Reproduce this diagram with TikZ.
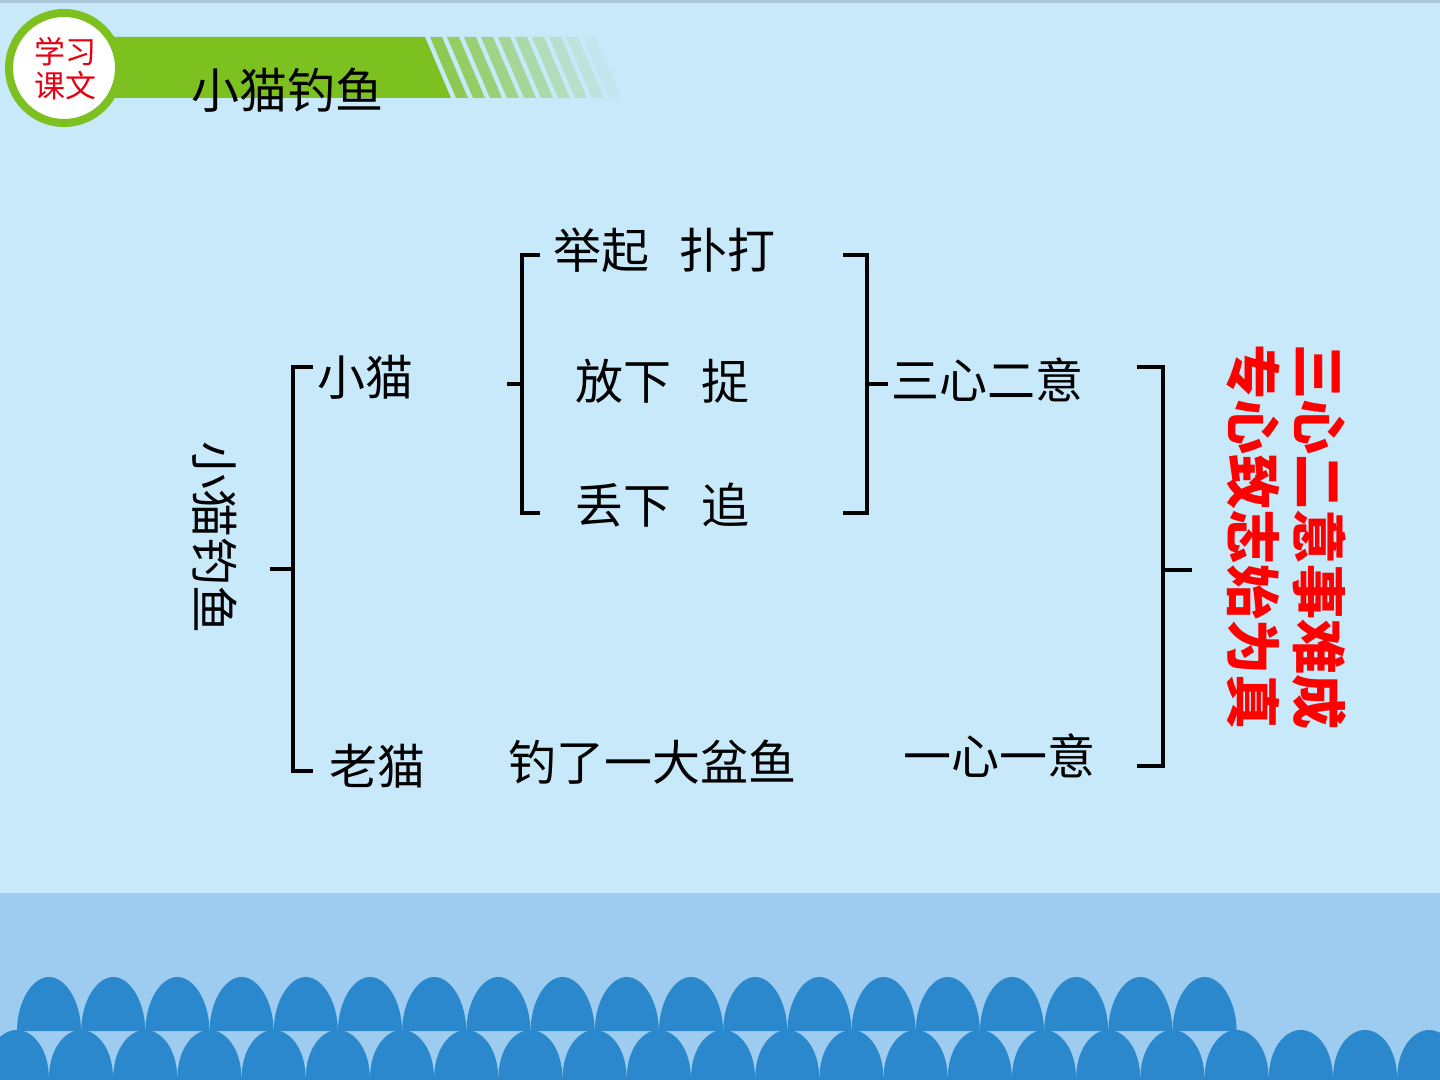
\documentclass[tikz,border=0pt]{standalone}
\usepackage{fontspec}
\newfontfamily\cjk{Noto Sans CJK SC}
\definecolor{skyblue}{HTML}{C7E9FA}
\definecolor{edgeblue}{HTML}{A9C6DA}
\definecolor{seablue}{HTML}{9DCCF0}
\definecolor{waveblue}{HTML}{2B88CC}
\definecolor{leafgreen}{HTML}{7DC121}
\definecolor{badgered}{HTML}{E60012}
\definecolor{moralred}{HTML}{FF0000}

\begin{document}
\begin{tikzpicture}[x=0.5pt, y=-0.5pt,
    word/.style={inner sep=0pt, font=\cjk\fontsize{24}{28}\selectfont},
    brk/.style={draw=black, line width=2pt}]
    \useasboundingbox (0,0) rectangle (1440,1080);
    \clip (0,0) rectangle (1440,1080);

    % background
    \fill[skyblue] (0,0) rectangle (1440,893);
    \fill[edgeblue] (0,0) rectangle (1440,3);
    \fill[seablue] (0,893) rectangle (1440,1080);

    % waves
    \foreach \k in {0,...,18} {
        \pgfmathsetmacro\cx{49+64.2*\k}
        \fill[waveblue] (\cx-32,1031) .. controls (\cx-32,1002) and (\cx-17,977) .. (\cx,977)
            .. controls (\cx+17,977) and (\cx+32,1002) .. (\cx+32,1031) -- cycle;
    }
    \foreach \k in {-1,...,21} {
        \pgfmathsetmacro\cx{81+64.2*\k}
        \fill[waveblue] (\cx-32,1078) .. controls (\cx-32,1050) and (\cx-17,1030) .. (\cx,1030)
            .. controls (\cx+17,1030) and (\cx+32,1050) .. (\cx+32,1078) -- cycle;
    }
    \fill[waveblue] (0,1077) rectangle (1440,1080);

    % header band
    \fill[leafgreen] (90,37) -- (425,37) -- (451,98) -- (90,98) -- cycle;
    \foreach \i in {1,...,10} {
        \pgfmathsetmacro\sx{430+17*(\i-1)}
        \pgfmathsetmacro\op{0.85-0.08*\i}
        \fill[leafgreen, opacity=\op] (\sx,37) -- (\sx+12,37) -- (\sx+38,98) -- (\sx+26,98) -- cycle;
    }
    \draw[leafgreen, line width=4pt, fill=white] (64,68) circle (55);
    \node[inner sep=0pt, align=center, text=badgered,
        font=\cjk\fontsize{15.5}{17}\selectfont] (badge) at (65,69) {学习\\课文};
    \node[inner sep=0pt, font=\cjk\fontsize{24}{28}\selectfont] (title) at (287,90) {小猫钓鱼};

    % labels
    \node[word, rotate=-90] (story) at (215,538) {小猫钓鱼};
    \node[word] (kitten) at (365,377) {小猫};
    \node[word] (oldcat) at (377,766) {老猫};
    \node[word] (raise) at (664,250) {举起\hspace{15pt}扑打};
    \node[word] (drop) at (662,381) {放下\hspace{15pt}捉};
    \node[word] (lose) at (662,505) {丢下\hspace{15pt}追};
    \node[word] (catch) at (652,762) {钓了一大盆鱼};
    \node[word] (halfheart) at (987,380) {三心二意};
    \node[word] (wholeheart) at (999,756) {一心一意};
    \node[inner sep=0pt, rotate=-90, align=center, text=moralred,
        font=\cjk\bfseries\fontsize{27.5}{33}\selectfont] (moral) at (1287,537)
        {三心二意事难成\\专心致志始为真};

    % brackets
    \coordinate (a1) at (313,367);  \coordinate (a2) at (293,367);
    \coordinate (a3) at (293,771);  \coordinate (a4) at (313,771);
    \coordinate (am) at (293,569);  \coordinate (at) at (270,569);
    \draw[brk] (a1) -- (a2) -- (a3) -- (a4);
    \draw[brk] (at) -- (am);

    \coordinate (b1) at (540,255);  \coordinate (b2) at (522,255);
    \coordinate (b3) at (522,513);  \coordinate (b4) at (540,513);
    \coordinate (bm) at (522,384);  \coordinate (bt) at (507,384);
    \draw[brk] (b1) -- (b2) -- (b3) -- (b4);
    \draw[brk] (bt) -- (bm);

    \coordinate (c1) at (843,255);  \coordinate (c2) at (867,255);
    \coordinate (c3) at (867,513);  \coordinate (c4) at (843,513);
    \coordinate (cm) at (867,384);  \coordinate (ct) at (888,384);
    \draw[brk] (c1) -- (c2) -- (c3) -- (c4);
    \draw[brk] (cm) -- (ct);

    \coordinate (d1) at (1137,367); \coordinate (d2) at (1163,367);
    \coordinate (d3) at (1163,766); \coordinate (d4) at (1137,766);
    \coordinate (dm) at (1163,570); \coordinate (dt) at (1192,570);
    \draw[brk] (d1) -- (d2) -- (d3) -- (d4);
    \draw[brk] (dm) -- (dt);
\end{tikzpicture}
\end{document}
